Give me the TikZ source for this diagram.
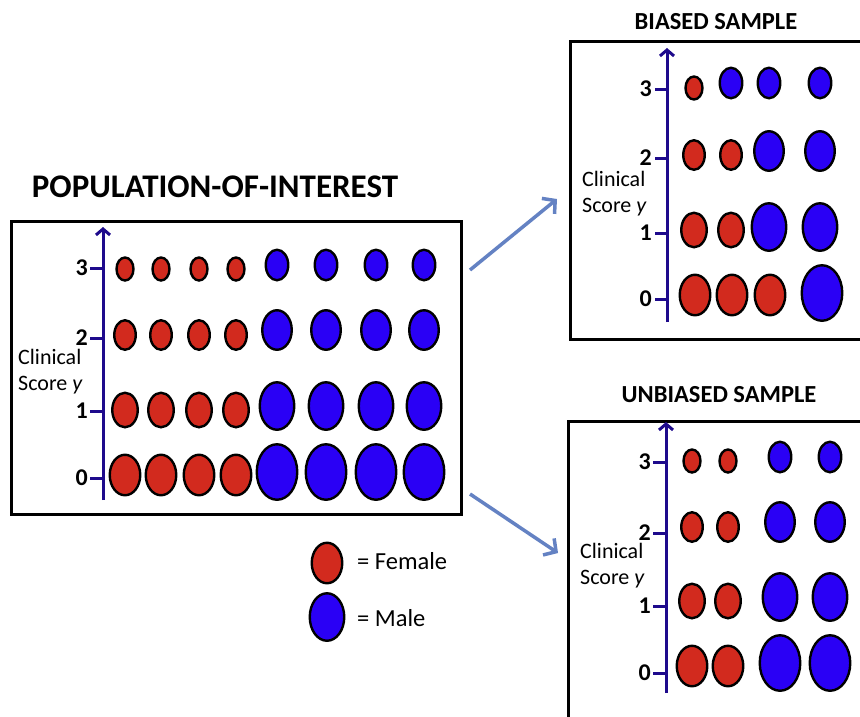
\documentclass[tikz,border=0pt]{standalone}
\usepackage{fontspec}
\setmainfont{Carlito}
\usetikzlibrary{arrows.meta,shapes.geometric}
\definecolor{femc}{RGB}{210,42,30}
\definecolor{malc}{RGB}{42,0,245}
\definecolor{axc}{RGB}{30,10,140}
\definecolor{arrc}{RGB}{100,130,195}
\tikzset{
  dot/.style={ellipse,draw=black,line width=2.4pt,inner sep=0pt},
  fem3/.style={dot,fill=femc,minimum width=17pt,minimum height=23pt},
  fem2/.style={dot,fill=femc,minimum width=21.5pt,minimum height=29.5pt},
  fem1/.style={dot,fill=femc,minimum width=25.5pt,minimum height=34.5pt},
  fem0/.style={dot,fill=femc,minimum width=30.5pt,minimum height=40.5pt},
  mal3/.style={dot,fill=malc,minimum width=22.5pt,minimum height=30.5pt},
  mal2/.style={dot,fill=malc,minimum width=29.5pt,minimum height=39.5pt},
  mal1/.style={dot,fill=malc,minimum width=34.5pt,minimum height=47.5pt},
  mal0/.style={dot,fill=malc,minimum width=40.5pt,minimum height=55.5pt},
  panel/.style={draw=black,line width=3.3pt},
  yaxis/.style={draw=axc,line width=3pt,-{Straight Barb[length=6pt,width=14pt,line width=3pt]}},
  tick/.style={draw=axc,line width=3pt},
  ticklab/.style={font=\fontsize{24}{24}\selectfont\bfseries,anchor=east,inner sep=0pt},
  axlab/.style={font=\fontsize{22}{26}\selectfont,anchor=base west,inner sep=0pt,text height=15pt,text depth=4pt},
  ttl/.style={font=\fontsize{24.5}{24.5}\selectfont\bfseries,inner sep=0pt},
  bigttl/.style={font=\fontsize{33}{33}\selectfont\bfseries,inner sep=0pt},
  leg/.style={font=\fontsize{24.5}{24.5}\selectfont,anchor=west,inner sep=0pt},
  flow/.style={draw=arrc,line width=3.5pt,-{Straight Barb[length=9pt,width=20pt,line width=3.5pt]}}
}
\begin{document}
\begin{tikzpicture}[x=1pt,y=-1pt]
\useasboundingbox (0,0) rectangle (860,716);
\clip (0,0) rectangle (860,716);
% ---------------- population panel
\node[bigttl] (ptitle) at (215,187) {POPULATION-OF-INTEREST};
\node[panel,minimum width=450pt,minimum height=293pt,anchor=north west,inner sep=0pt] (pbox) at (10,220) {};
\coordinate (pax0) at (103,500);
\coordinate (pax1) at (103,227);
\draw[yaxis] (pax0) -- (pax1);
\foreach \v/\yy in {3/268,2/338,1/411,0/478}{
  \coordinate (pt\v a) at (90,\yy);
  \coordinate (pt\v b) at (103,\yy);
  \draw[tick] (pt\v a) -- (pt\v b);
  \node[ticklab] (pl\v) at (88,\yy) {\v};
}
\node[axlab] (plab1) at (18,364) {Clinical};
\node[axlab] (plab2) at (18,390) {Score \textit{y}};
\foreach \i/\xx in {1/125,2/161,3/199,4/236}{
  \node[fem3] (pf3\i) at (\xx,269) {};
  \node[fem2] (pf2\i) at (\xx,335) {};
  \node[fem1] (pf1\i) at (\xx,410) {};
  \node[fem0] (pf0\i) at (\xx,475) {};
}
\foreach \i/\xx in {1/277,2/326,3/376,4/424}{
  \node[mal3] (pm3\i) at (\xx,265) {};
  \node[mal2] (pm2\i) at (\xx,330) {};
  \node[mal1] (pm1\i) at (\xx,406) {};
  \node[mal0] (pm0\i) at (\xx,472) {};
}
% legend
\node[fem0] (legf) at (327,563) {};
\node[mal1] (legm) at (327,617) {};
\node[leg] (legft) at (357,561) {= Female};
\node[leg] (legmt) at (357,618) {= Male};
% ---------------- biased panel
\node[ttl] (btitle) at (716,22) {BIASED SAMPLE};
\node[panel,minimum width=320pt,minimum height=298pt,anchor=north west,inner sep=0pt] (bbox) at (569,40) {};
\coordinate (bax0) at (667,322);
\coordinate (bax1) at (667,48);
\draw[yaxis] (bax0) -- (bax1);
\foreach \v/\yy in {3/89,2/158,1/233,0/299}{
  \coordinate (bt\v a) at (655,\yy);
  \coordinate (bt\v b) at (667,\yy);
  \draw[tick] (bt\v a) -- (bt\v b);
  \node[ticklab] (bl\v) at (652,\yy) {\v};
}
\node[axlab] (blab1) at (582,186) {Clinical};
\node[axlab] (blab2) at (582,212) {Score \textit{y}};
\node[fem3] (bf31) at (694,88) {};
\node[mal3] (bm32) at (731,83) {};
\node[mal3] (bm33) at (769,83) {};
\node[mal3] (bm34) at (820,83) {};
\node[fem2] (bf21) at (694,155) {};
\node[fem2] (bf22) at (731,155) {};
\node[mal2] (bm23) at (769,151) {};
\node[mal2] (bm24) at (820,151) {};
\node[fem1] (bf11) at (694,230) {};
\node[fem1] (bf12) at (731,230) {};
\node[mal1] (bm13) at (769,227) {};
\node[mal1] (bm14) at (820,227) {};
\node[fem0] (bf01) at (695,295) {};
\node[fem0] (bf02) at (732,295) {};
\node[fem0] (bf03) at (770,295) {};
\node[mal0] (bm04) at (822,293) {};
% ---------------- unbiased panel
\node[ttl] (utitle) at (719,395) {UNBIASED SAMPLE};
\node[panel,minimum width=320pt,minimum height=340pt,anchor=north west,inner sep=0pt] (ubox) at (567,420) {};
\coordinate (uax0) at (666,693);
\coordinate (uax1) at (666,422);
\draw[yaxis] (uax0) -- (uax1);
\foreach \v/\yy in {3/462,2/533,1/606,0/673}{
  \coordinate (ut\v a) at (653,\yy);
  \coordinate (ut\v b) at (666,\yy);
  \draw[tick] (ut\v a) -- (ut\v b);
  \node[ticklab] (ul\v) at (651,\yy) {\v};
}
\node[axlab] (ulab1) at (580,558) {Clinical};
\node[axlab] (ulab2) at (580,584) {Score \textit{y}};
\foreach \i/\xx in {1/692,2/728}{
  \node[fem3] (uf3\i) at (\xx,461) {};
  \node[fem2] (uf2\i) at (\xx,527) {};
  \node[fem1] (uf1\i) at (\xx,601) {};
  \node[fem0] (uf0\i) at (\xx,666) {};
}
\foreach \i/\xx in {3/780,4/830}{
  \node[mal3] (um3\i) at (\xx,457) {};
  \node[mal2] (um2\i) at (\xx,522) {};
  \node[mal1] (um1\i) at (\xx,597) {};
  \node[mal0] (um0\i) at (\xx,663) {};
}
% ---------------- arrows
\coordinate (a1s) at (470,270);
\coordinate (a1e) at (557,199);
\coordinate (a2s) at (470,494);
\coordinate (a2e) at (558,553);
\draw[flow] (a1s) -- (a1e);
\draw[flow] (a2s) -- (a2e);
\end{tikzpicture}
\end{document}
